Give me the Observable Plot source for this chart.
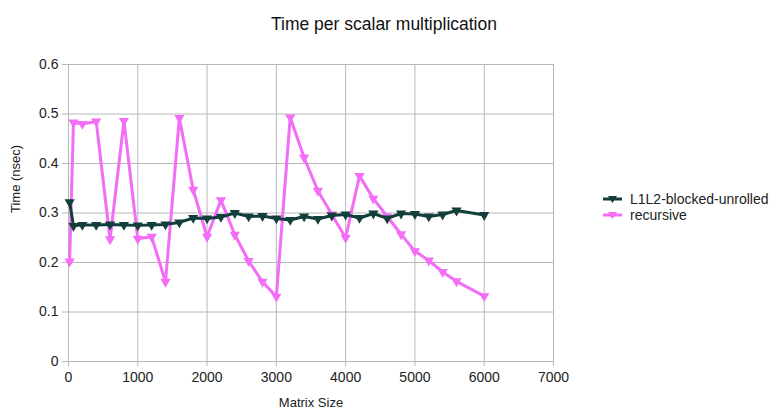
<!DOCTYPE html>
<html>
<head>
<meta charset="utf-8">
<script src="https://cdn.jsdelivr.net/npm/d3@7"></script>
<script src="https://cdn.jsdelivr.net/npm/@observablehq/plot@0.6"></script>
<style>
  html, body { margin: 0; padding: 0; background: #fff; }
  #wrap { position: relative; width: 776px; height: 410px; font-family: "Liberation Sans", Arial, sans-serif; }
  #legend { position: absolute; left: 603px; top: 191px; font-size: 14px; color: #222; }
  #legend .row { display: flex; align-items: center; height: 16px; }
  #legend svg { margin-right: 8px; }
</style>
</head>
<body>
<div id="wrap"><div id="legend"></div></div>
<script>
const title = "Time per scalar multiplication";
const xLabel = "Matrix Size";
const yLabel = "Time (nsec)";
const seriesNames = ["L1L2-blocked-unrolled", "recursive"];
const seriesColors = ["#123e3c", "#f36df6"];

const sizes = [16, 72, 200, 400, 600, 800, 1000, 1200, 1400, 1600, 1800, 2000, 2200, 2400, 2600, 2800, 3000,
  3200, 3400, 3600, 3800, 4000, 4200, 4400, 4600, 4800, 5000, 5200, 5400, 5600, 6000];
const blockedUnrolled = [0.322, 0.274, 0.276, 0.276, 0.277, 0.276, 0.275, 0.276, 0.277, 0.281, 0.290, 0.289, 0.292, 0.300,
  0.293, 0.294, 0.289, 0.286, 0.293, 0.288, 0.295, 0.297, 0.290, 0.299, 0.289, 0.299, 0.298, 0.293, 0.297, 0.305, 0.296];
const recursive = [0.202, 0.483, 0.480, 0.485, 0.247, 0.486, 0.248, 0.252, 0.161, 0.492, 0.347, 0.252, 0.326, 0.256,
  0.203, 0.161, 0.131, 0.493, 0.412, 0.345, 0.297, 0.250, 0.375, 0.329, 0.293, 0.257, 0.223, 0.204, 0.181, 0.162, 0.132];

const xTicks = [0, 1000, 2000, 3000, 4000, 5000, 6000, 7000];
const yTicks = [0, 0.1, 0.2, 0.3, 0.4, 0.5, 0.6];

const rows = [];
sizes.forEach((s, i) => {
  rows.push({size: s, time: blockedUnrolled[i], series: seriesNames[0]});
});
sizes.forEach((s, i) => {
  rows.push({size: s, time: recursive[i], series: seriesNames[1]});
});
const blockedRows = rows.filter(d => d.series === seriesNames[0]);
const recRows = rows.filter(d => d.series === seriesNames[1]);

const grid = "#b8b8b8";

const chart = Plot.plot({
  width: 776,
  height: 410,
  marginLeft: 68,
  marginRight: 223,
  marginTop: 64,
  marginBottom: 49,
  style: {fontFamily: "Liberation Sans, Arial, sans-serif", fontSize: "14px", color: "#222", background: "#fff"},
  x: {domain: [0, 7000]},
  y: {domain: [0, 0.6]},
  marks: [
    Plot.gridX(xTicks, {stroke: grid, strokeOpacity: 1, strokeWidth: 1}),
    Plot.gridY(yTicks, {stroke: grid, strokeOpacity: 1, strokeWidth: 1}),
    Plot.axisX(xTicks, {tickSize: 5, tickPadding: 6, stroke: grid, tickFormat: d => String(d), label: null, fontSize: 14}),
    Plot.axisY(yTicks, {tickSize: 6, tickPadding: 4, stroke: grid, tickFormat: d => String(+d.toFixed(1)), label: null, fontSize: 14}),
    Plot.line(recRows, {x: "size", y: "time", stroke: seriesColors[1], strokeWidth: 3, strokeLinejoin: "round"}),
    Plot.dot(recRows, {x: "size", y: "time", symbol: "triangle", rotate: 180, r: 3.8, fill: seriesColors[1], stroke: "none"}),
    Plot.line(blockedRows, {x: "size", y: "time", stroke: seriesColors[0], strokeWidth: 3, strokeLinejoin: "round"}),
    Plot.dot(blockedRows, {x: "size", y: "time", symbol: "triangle", rotate: 180, r: 3.8, fill: seriesColors[0], stroke: "none"}),
    Plot.text([title], {frameAnchor: "top", dy: -47, dx: 73, fontSize: 17.5, fill: "#111"}),
    Plot.text([xLabel], {frameAnchor: "bottom", dy: 45, fontSize: 13, fill: "#222"}),
    Plot.text([yLabel], {frameAnchor: "left", dx: -53, rotate: -90, fontSize: 13, fill: "#222"})
  ]
});
const wrap = document.getElementById("wrap");
chart.style.position = "absolute";
chart.style.left = "0";
chart.style.top = "0";
wrap.insertBefore(chart, wrap.firstChild);

const legend = document.getElementById("legend");
seriesNames.forEach((name, i) => {
  const row = document.createElement("div");
  row.className = "row";
  row.innerHTML = `<svg width="19" height="10"><line x1="0" y1="5" x2="19" y2="5" stroke="${seriesColors[i]}" stroke-width="3"/>` +
    `<path d="M5,2 L14,2 L9.5,9 Z" fill="${seriesColors[i]}"/></svg><span>${name}</span>`;
  legend.appendChild(row);
});
</script>
</body>
</html>
